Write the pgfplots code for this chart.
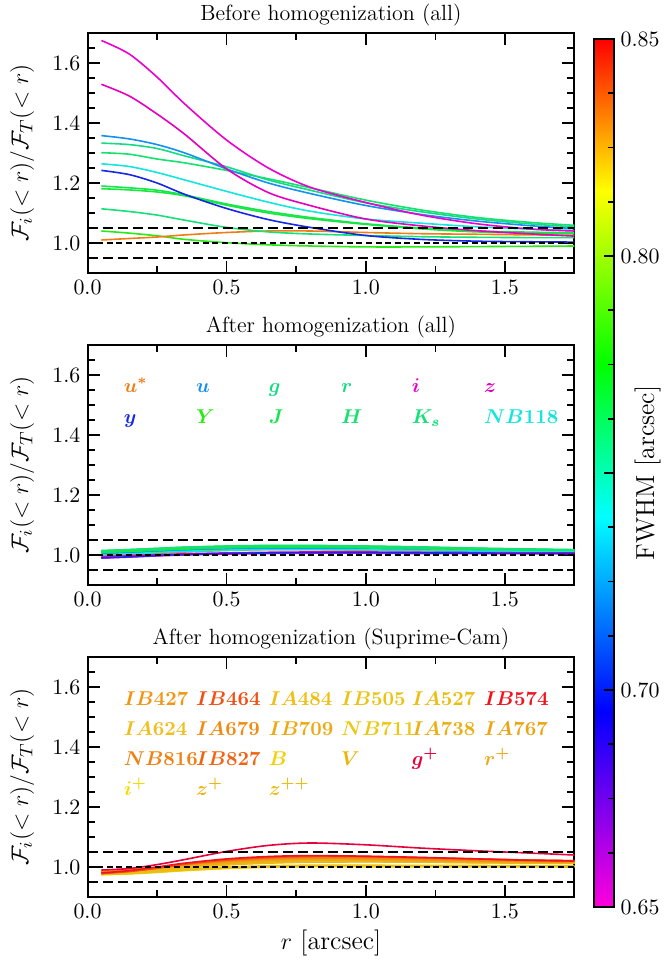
\documentclass[border=0pt]{standalone}
\usepackage{pgfplots}
\pgfplotsset{compat=1.18}
\usepackage{pgfplotstable}
\usepackage{bm}

\pgfplotsset{colormap={fw}{rgb255(0cm)=(255,0,220) rgb255(4.5cm)=(0,0,255) rgb255(9cm)=(0,255,255) rgb255(12.5cm)=(0,255,0) rgb255(16.5cm)=(255,255,0) rgb255(20cm)=(255,0,0)}}

% top panel colours
\definecolor{tA}{RGB}{235,0,205}
\definecolor{tB}{RGB}{228,0,190}
\definecolor{tC}{RGB}{20,145,240}
\definecolor{tD}{RGB}{20,220,130}
\definecolor{tE}{RGB}{20,225,110}
\definecolor{tF}{RGB}{20,230,222}
\definecolor{tG}{RGB}{20,40,230}
\definecolor{tH}{RGB}{20,230,75}
\definecolor{tI}{RGB}{25,232,60}
\definecolor{tJ}{RGB}{20,225,120}
\definecolor{tK}{RGB}{40,235,20}
\definecolor{tL}{RGB}{240,125,20}
% bottom panel colours
\definecolor{bIBa}{RGB}{240,150,20}
\definecolor{bIBb}{RGB}{240,80,20}
\definecolor{bIAc}{RGB}{240,190,20}
\definecolor{bIBd}{RGB}{235,195,20}
\definecolor{bIAe}{RGB}{235,190,20}
\definecolor{bIBf}{RGB}{240,20,30}
\definecolor{bIAg}{RGB}{240,190,30}
\definecolor{bIAh}{RGB}{240,140,20}
\definecolor{bIBi}{RGB}{235,170,20}
\definecolor{bNBj}{RGB}{235,200,20}
\definecolor{bIAk}{RGB}{235,175,20}
\definecolor{bIAl}{RGB}{235,165,20}
\definecolor{bNBm}{RGB}{240,130,20}
\definecolor{bIBn}{RGB}{240,100,20}
\definecolor{bB}{RGB}{240,210,10}
\definecolor{bV}{RGB}{235,180,10}
\definecolor{bgp}{RGB}{230,0,60}
\definecolor{brp}{RGB}{235,170,30}
\definecolor{bip}{RGB}{240,220,0}
\definecolor{bzp}{RGB}{235,180,20}
\definecolor{bzpp}{RGB}{235,190,20}

\pgfplotstableread{
x    t1    t2    t3    t4    t5    t6    t7    t8    t9    t10   t11   t12
0.05 1.675 1.529 1.358 1.333 1.301 1.264 1.242 1.190 1.181 1.114 1.040 1.010
0.15 1.630 1.490 1.347 1.328 1.296 1.255 1.228 1.184 1.177 1.105 1.033 1.015
0.25 1.553 1.430 1.328 1.315 1.280 1.235 1.200 1.176 1.170 1.093 1.024 1.020
0.35 1.463 1.362 1.300 1.290 1.267 1.210 1.162 1.160 1.157 1.076 1.012 1.027
0.50 1.343 1.247 1.247 1.254 1.242 1.172 1.115 1.130 1.126 1.052 1.001 1.035
0.65 1.250 1.168 1.200 1.210 1.214 1.136 1.078 1.105 1.100 1.037 0.994 1.040
0.80 1.186 1.125 1.165 1.176 1.184 1.106 1.052 1.085 1.081 1.030 0.990 1.040
1.00 1.135 1.080 1.125 1.134 1.143 1.080 1.025 1.064 1.062 1.025 0.987 1.035
1.20 1.093 1.057 1.095 1.104 1.110 1.066 1.012 1.050 1.047 1.021 0.987 1.031
1.40 1.064 1.041 1.073 1.080 1.085 1.054 1.006 1.040 1.037 1.019 0.988 1.029
1.60 1.046 1.030 1.057 1.063 1.068 1.046 1.004 1.036 1.033 1.018 0.989 1.027
1.75 1.040 1.023 1.048 1.054 1.059 1.042 1.003 1.034 1.031 1.018 0.990 1.026
}\tabTop

\pgfplotstableread{
x    us    u     g     r     i     z     y     Y     J     H     Ks    NB
0.05 0.995 1.005 1.012 1.015 0.990 0.995 0.990 1.010 1.008 1.012 1.014 1.000
0.15 1.000 1.008 1.016 1.018 0.993 0.998 0.994 1.014 1.012 1.016 1.018 1.004
0.25 1.005 1.012 1.020 1.022 0.997 1.001 0.998 1.018 1.016 1.020 1.022 1.008
0.35 1.010 1.016 1.024 1.026 1.000 1.004 1.002 1.022 1.020 1.024 1.026 1.012
0.50 1.015 1.020 1.028 1.030 1.003 1.007 1.005 1.026 1.024 1.027 1.029 1.016
0.65 1.018 1.022 1.030 1.032 1.005 1.009 1.007 1.028 1.026 1.029 1.031 1.018
0.80 1.018 1.022 1.030 1.032 1.006 1.010 1.008 1.028 1.026 1.029 1.031 1.018
1.00 1.016 1.020 1.028 1.030 1.006 1.010 1.008 1.026 1.024 1.027 1.029 1.017
1.20 1.014 1.017 1.025 1.027 1.005 1.009 1.007 1.023 1.021 1.024 1.026 1.015
1.40 1.012 1.014 1.021 1.023 1.005 1.008 1.006 1.020 1.018 1.021 1.022 1.013
1.60 1.011 1.012 1.018 1.020 1.005 1.007 1.005 1.017 1.016 1.018 1.019 1.011
1.75 1.010 1.011 1.016 1.018 1.005 1.007 1.005 1.015 1.014 1.016 1.017 1.010
}\tabMid

\pgfplotstableread{
x    a1    a2    a3    a4    b1    b2    b3    b4    b5    c1    c2    c3    c4    c5    c6    d1    d2    d3    d4    d5    gp
0.05 0.978 0.980 0.982 0.979 0.985 0.983 0.986 0.984 0.987 0.980 0.982 0.981 0.983 0.979 0.982 0.976 0.975 0.977 0.974 0.976 0.990
0.15 0.985 0.988 0.987 0.986 0.990 0.989 0.991 0.990 0.992 0.985 0.986 0.985 0.987 0.984 0.986 0.979 0.978 0.980 0.977 0.980 0.995
0.25 0.996 1.000 0.996 0.997 0.998 0.998 0.999 0.998 0.999 0.992 0.993 0.991 0.994 0.990 0.992 0.984 0.983 0.985 0.982 0.986 1.008
0.35 1.010 1.013 1.008 1.010 1.008 1.009 1.008 1.007 1.007 1.000 1.001 0.999 1.002 0.998 1.000 0.990 0.989 0.991 0.988 0.993 1.025
0.50 1.024 1.027 1.021 1.023 1.019 1.020 1.017 1.017 1.016 1.010 1.011 1.008 1.012 1.007 1.009 0.997 0.996 0.998 0.995 1.000 1.052
0.65 1.032 1.035 1.029 1.031 1.026 1.027 1.023 1.024 1.022 1.017 1.017 1.014 1.018 1.013 1.015 1.001 1.000 1.001 0.999 1.004 1.072
0.80 1.036 1.038 1.033 1.035 1.029 1.030 1.026 1.027 1.025 1.021 1.020 1.018 1.022 1.016 1.019 1.003 1.002 1.002 1.001 1.006 1.080
1.00 1.035 1.036 1.032 1.034 1.028 1.029 1.025 1.026 1.025 1.021 1.020 1.018 1.021 1.017 1.019 1.003 1.002 1.002 1.001 1.006 1.074
1.20 1.031 1.032 1.029 1.030 1.025 1.026 1.023 1.023 1.022 1.019 1.018 1.017 1.019 1.016 1.018 1.003 1.002 1.002 1.001 1.005 1.063
1.40 1.027 1.027 1.025 1.026 1.022 1.022 1.020 1.020 1.020 1.017 1.016 1.015 1.017 1.014 1.016 1.003 1.002 1.001 1.001 1.005 1.054
1.60 1.023 1.022 1.022 1.023 1.019 1.019 1.018 1.018 1.018 1.015 1.014 1.013 1.015 1.013 1.014 1.003 1.002 1.001 1.001 1.004 1.046
1.75 1.021 1.020 1.020 1.021 1.017 1.018 1.016 1.017 1.016 1.014 1.013 1.012 1.014 1.012 1.013 1.003 1.002 1.001 1.001 1.004 1.040
}\tabBot

\pgfplotsset{
  myax/.style={
    scale only axis, width=243.5pt, height=120pt,
    xmin=0, xmax=1.75, ymin=0.9, ymax=1.7,
    xtick={0,0.5,1,1.5}, minor xtick={0.25,0.75,1.25},
    ytick={1.0,1.2,1.4,1.6},
    minor ytick={0.9,0.95,1.05,1.1,1.15,1.25,1.3,1.35,1.45,1.5,1.55,1.65,1.7},
    xticklabel style={/pgf/number format/fixed,/pgf/number format/fixed zerofill,/pgf/number format/precision=1},
    yticklabel style={/pgf/number format/fixed,/pgf/number format/fixed zerofill,/pgf/number format/precision=1},
    tick align=inside, major tick length=6pt, minor tick length=3.5pt,
    every tick/.style={black, line width=0.8pt},
    axis line style={line width=1pt},
    tick label style={font=\fontsize{10.5}{12}\selectfont},
    ylabel={$\mathcal{F}_i(<r)/\mathcal{F}_T(<r)$},
    ylabel style={font=\fontsize{13}{15}\selectfont, at={(axis description cs:-0.134,0.5)}, anchor=center},
    title style={font=\fontsize{11}{13}\selectfont, at={(axis description cs:0.5,1)}, anchor=center, yshift=3pt},
    every axis plot/.append style={line width=0.8pt, smooth},
  },
  dl/.style={black, line width=1.1pt, dash pattern=on 5pt off 2.5pt, sharp plot},
  dm/.style={black, line width=0.6pt, dash pattern=on 3pt off 1.8pt, sharp plot},
}

\begin{document}
\begin{tikzpicture}
\path[use as bounding box] (0,0) rectangle (332.5pt,-480pt);

% ---------------- top panel ----------------
\begin{axis}[myax, at={(43.75pt,-16.5pt)}, anchor=north west,
  title={Before homogenization (all)},
  colorbar, colormap name=fw, point meta min=0.65, point meta max=0.85,
  colorbar style={
    at={(parent axis.north east)}, anchor=north west, xshift=1pt, yshift=-3pt,
    scale only axis, width=10pt, height=434pt,
    ytick={0.65,0.7,0.75,0.8,0.85}, yticklabels={$0.65$,$0.70$,,$0.80$,$0.85$},
    minor ytick={0.6625,0.675,0.6875,0.7125,0.725,0.7375,0.7625,0.775,0.7875,0.8125,0.825,0.8375},
    tick align=inside, ytick pos=right, yticklabel pos=right,
    major tick length=5pt, minor tick length=3pt,
    every tick/.style={black, line width=0.8pt},
    axis line style={line width=1pt},
    tick label style={font=\fontsize{10.5}{12}\selectfont},
    ylabel={FWHM [arcsec]},
    ylabel style={font=\fontsize{13}{15}\selectfont, at={(axis description cs:2.7,0.5)}, anchor=center},
  }]
\addplot[tK] table[y=t11] {\tabTop};
\addplot[tL] table[y=t12] {\tabTop};
\addplot[tJ] table[y=t10] {\tabTop};
\addplot[tI] table[y=t9] {\tabTop};
\addplot[tH] table[y=t8] {\tabTop};
\addplot[tG] table[y=t7] {\tabTop};
\addplot[tF] table[y=t6] {\tabTop};
\addplot[tE] table[y=t5] {\tabTop};
\addplot[tD] table[y=t4] {\tabTop};
\addplot[tC] table[y=t3] {\tabTop};
\addplot[tB] table[y=t2] {\tabTop};
\addplot[tA] table[y=t1] {\tabTop};
\addplot[dl] coordinates {(0,1.05) (1.75,1.05)};
\addplot[dl] coordinates {(0,0.95) (1.75,0.95)};
\addplot[dm] coordinates {(0,1.0) (1.75,1.0)};
\end{axis}

% ---------------- middle panel ----------------
\begin{axis}[myax, at={(43.75pt,-172.5pt)}, anchor=north west,
  title={After homogenization (all)}]
\addplot[tL] table[y=us] {\tabMid};
\addplot[tC] table[y=u] {\tabMid};
\addplot[tD] table[y=g] {\tabMid};
\addplot[tE] table[y=r] {\tabMid};
\addplot[tK] table[y=Y] {\tabMid};
\addplot[tH] table[y=J] {\tabMid};
\addplot[tI] table[y=H] {\tabMid};
\addplot[tJ] table[y=Ks] {\tabMid};
\addplot[tF] table[y=NB] {\tabMid};
\addplot[tA] table[y=i] {\tabMid};
\addplot[tB] table[y=z] {\tabMid};
\addplot[tG] table[y=y] {\tabMid};
\addplot[dl] coordinates {(0,1.05) (1.75,1.05)};
\addplot[dl] coordinates {(0,0.95) (1.75,0.95)};
\addplot[dm] coordinates {(0,1.0) (1.75,1.0)};
\node[anchor=base west, text=tL] at (axis cs:0.105,1.543) {$\bm{u^*}$};
\node[anchor=base west, text=tC] at (axis cs:0.365,1.543) {$\bm{u}$};
\node[anchor=base west, text=tD] at (axis cs:0.626,1.543) {$\bm{g}$};
\node[anchor=base west, text=tD] at (axis cs:0.886,1.543) {$\bm{r}$};
\node[anchor=base west, text=tA] at (axis cs:1.14,1.543) {$\bm{i}$};
\node[anchor=base west, text=tB] at (axis cs:1.40,1.543) {$\bm{z}$};
\node[anchor=base west, text=tG] at (axis cs:0.105,1.438) {$\bm{y}$};
\node[anchor=base west, text=tK] at (axis cs:0.365,1.438) {$\bm{Y}$};
\node[anchor=base west, text=tH] at (axis cs:0.626,1.438) {$\bm{J}$};
\node[anchor=base west, text=tE] at (axis cs:0.886,1.438) {$\bm{H}$};
\node[anchor=base west, text=tJ] at (axis cs:1.14,1.438) {$\bm{K_s}$};
\node[anchor=base west, text=tF] at (axis cs:1.40,1.438) {$\bm{NB118}$};
\end{axis}

% ---------------- bottom panel ----------------
\begin{axis}[myax, at={(43.75pt,-328.5pt)}, anchor=north west,
  title={After homogenization (Suprime-Cam)},
  xlabel={$r$ [arcsec]},
  xlabel style={font=\fontsize{13}{15}\selectfont, at={(axis description cs:0.5,-0.19)}, anchor=center}]
\addplot[bip] table[y=d4] {\tabBot};
\addplot[bNBj] table[y=d2] {\tabBot};
\addplot[bB] table[y=d3] {\tabBot};
\addplot[bIAe] table[y=d1] {\tabBot};
\addplot[bzpp] table[y=d5] {\tabBot};
\addplot[bV] table[y=c5] {\tabBot};
\addplot[bIAg] table[y=c3] {\tabBot};
\addplot[bzp] table[y=c6] {\tabBot};
\addplot[bIBd] table[y=c2] {\tabBot};
\addplot[bIAc] table[y=c1] {\tabBot};
\addplot[bIAk] table[y=c4] {\tabBot};
\addplot[brp] table[y=b5] {\tabBot};
\addplot[bIBi] table[y=b3] {\tabBot};
\addplot[bIAl] table[y=b4] {\tabBot};
\addplot[bIBa] table[y=b1] {\tabBot};
\addplot[bIAh] table[y=b2] {\tabBot};
\addplot[bNBm] table[y=a3] {\tabBot};
\addplot[bIBn] table[y=a4] {\tabBot};
\addplot[bIBb] table[y=a1] {\tabBot};
\addplot[bIBf] table[y=a2] {\tabBot};
\addplot[bgp] table[y=gp] {\tabBot};
\addplot[dl] coordinates {(0,1.05) (1.75,1.05)};
\addplot[dl] coordinates {(0,0.95) (1.75,0.95)};
\addplot[dm] coordinates {(0,1.0) (1.75,1.0)};
\node[anchor=base west, text=bIBa] at (axis cs:0.105,1.54) {$\bm{IB427}$};
\node[anchor=base west, text=bIBb] at (axis cs:0.365,1.54) {$\bm{IB464}$};
\node[anchor=base west, text=bIAc] at (axis cs:0.626,1.54) {$\bm{IA484}$};
\node[anchor=base west, text=bIBd] at (axis cs:0.886,1.54) {$\bm{IB505}$};
\node[anchor=base west, text=bIAe] at (axis cs:1.14,1.54) {$\bm{IA527}$};
\node[anchor=base west, text=bIBf] at (axis cs:1.40,1.54) {$\bm{IB574}$};
\node[anchor=base west, text=bIAg] at (axis cs:0.105,1.44) {$\bm{IA624}$};
\node[anchor=base west, text=bIAh] at (axis cs:0.365,1.44) {$\bm{IA679}$};
\node[anchor=base west, text=bIBi] at (axis cs:0.626,1.44) {$\bm{IB709}$};
\node[anchor=base west, text=bNBj] at (axis cs:0.886,1.44) {$\bm{NB711}$};
\node[anchor=base west, text=bIAk] at (axis cs:1.14,1.44) {$\bm{IA738}$};
\node[anchor=base west, text=bIAl] at (axis cs:1.40,1.44) {$\bm{IA767}$};
\node[anchor=base west, text=bNBm] at (axis cs:0.105,1.34) {$\bm{NB816}$};
\node[anchor=base west, text=bIBn] at (axis cs:0.365,1.34) {$\bm{IB827}$};
\node[anchor=base west, text=bB] at (axis cs:0.626,1.34) {$\bm{B}$};
\node[anchor=base west, text=bV] at (axis cs:0.886,1.34) {$\bm{V}$};
\node[anchor=base west, text=bgp] at (axis cs:1.14,1.34) {$\bm{g^+}$};
\node[anchor=base west, text=brp] at (axis cs:1.40,1.34) {$\bm{r^+}$};
\node[anchor=base west, text=bip] at (axis cs:0.105,1.24) {$\bm{i^+}$};
\node[anchor=base west, text=bzp] at (axis cs:0.365,1.24) {$\bm{z^+}$};
\node[anchor=base west, text=bzpp] at (axis cs:0.626,1.24) {$\bm{z^{++}}$};
\end{axis}
\end{tikzpicture}
\end{document}
